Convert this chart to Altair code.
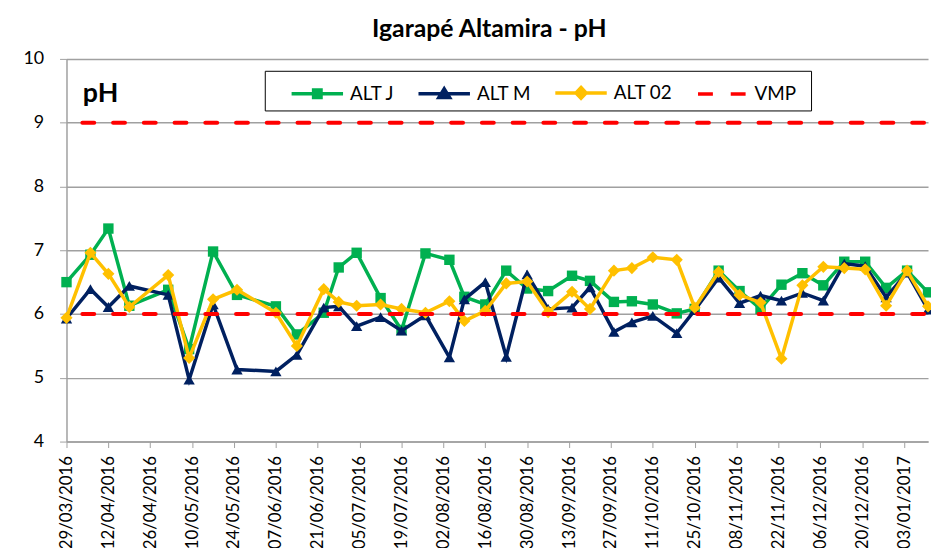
import altair as alt
import pandas as pd

# ---------------- data ----------------
dates = [
    "2016-03-29", "2016-04-06", "2016-04-12", "2016-04-19", "2016-05-02",
    "2016-05-09", "2016-05-17", "2016-05-25", "2016-06-07", "2016-06-14",
    "2016-06-23", "2016-06-28", "2016-07-04", "2016-07-12", "2016-07-19",
    "2016-07-27", "2016-08-04", "2016-08-09", "2016-08-16", "2016-08-23",
    "2016-08-30", "2016-09-06", "2016-09-14", "2016-09-20", "2016-09-28",
    "2016-10-04", "2016-10-11", "2016-10-19", "2016-10-25", "2016-11-02",
    "2016-11-09", "2016-11-16", "2016-11-23", "2016-11-30", "2016-12-07",
    "2016-12-14", "2016-12-21", "2016-12-28", "2017-01-04", "2017-01-11",
]
alt_j = [6.50, 6.93, 7.34, 6.13, 6.38, 5.45, 6.98, 6.30, 6.12, 5.68,
         6.02, 6.73, 6.96, 6.25, 5.75, 6.95, 6.85, 6.27, 6.15, 6.68,
         6.40, 6.36, 6.60, 6.52, 6.19, 6.20, 6.15, 6.01, 6.08, 6.68,
         6.36, 6.08, 6.46, 6.64, 6.45, 6.82, 6.82, 6.41, 6.68, 6.34]
alt_m = [5.93, 6.39, 6.11, 6.44, 6.30, 4.97, 6.15, 5.13, 5.10, 5.36,
         6.10, 6.12, 5.81, 5.95, 5.74, 5.98, 5.32, 6.23, 6.50, 5.33,
         6.62, 6.08, 6.10, 6.42, 5.72, 5.87, 5.97, 5.70, 6.06, 6.57,
         6.17, 6.29, 6.21, 6.33, 6.21, 6.79, 6.75, 6.26, 6.65, 6.07]
alt_02 = [5.94, 6.96, 6.63, 6.11, 6.61, 5.31, 6.23, 6.38, 6.02, 5.50,
          6.39, 6.19, 6.13, 6.15, 6.08, 6.02, 6.20, 5.89, 6.05, 6.48,
          6.51, 6.03, 6.35, 6.08, 6.68, 6.72, 6.89, 6.85, 6.10, 6.66,
          6.30, 6.18, 5.30, 6.45, 6.74, 6.72, 6.70, 6.13, 6.68, 6.12]
vmp_limits = [6.0, 9.0]
series_names = ["ALT J", "ALT M", "ALT 02", "VMP"]
tick_labels = [
    "29/03/2016", "12/04/2016", "26/04/2016", "10/05/2016", "24/05/2016",
    "07/06/2016", "21/06/2016", "05/07/2016", "19/07/2016", "02/08/2016",
    "16/08/2016", "30/08/2016", "13/09/2016", "27/09/2016", "11/10/2016",
    "25/10/2016", "08/11/2016", "22/11/2016", "06/12/2016", "20/12/2016",
    "03/01/2017",
]
y_ticks = [4, 5, 6, 7, 8, 9, 10]

# ---------------- styles ----------------
colors = ["#00B050", "#002060", "#FFC000", "#FF0000"]
marker_shapes = ["square", "triangle-up", "diamond"]
marker_sizes = [110, 130, 150]
legend_paths = [
    "M-1.73,0H1.73M-0.25,-0.25H0.25V0.25H-0.25Z",
    "M-1.73,0H1.73M0,-0.33L0.36,0.25H-0.36Z",
    "M-1.73,0H1.73M0,-0.36L0.34,0L0,0.36L-0.34,0Z",
    "M-1.6,0H-0.6M0.6,0H1.6",
]
GRAY = "#A0A0A0"
FONT = "Lato"


def to_ms(ts):
    return int(pd.Timestamp(ts).value // 10**6)


tick_ms = [to_ms(pd.to_datetime(t, format="%d/%m/%Y")) for t in tick_labels]
domain_ms = [to_ms(dates[0]), to_ms(dates[-1])]

rows = []
for name, vals in zip(series_names[:3], [alt_j, alt_m, alt_02]):
    for d, v in zip(dates, vals):
        rows.append({"date": d, "pH": v, "series": name})
df = pd.DataFrame(rows)
vmp_df = pd.DataFrame({"pH": vmp_limits})
legend_df = pd.DataFrame({"series": series_names,
                          "date": [None] * 4, "pH": [None] * 4})

x_axis = alt.Axis(
    title=None, values=tick_ms, format="%d/%m/%Y", labelAngle=270,
    labelFont=FONT, labelFontSize=17, labelColor="black", labelPadding=8,
    tickSize=6, tickColor=GRAY, domainColor=GRAY, domainWidth=1.5,
    grid=False, labelOverlap=False, labelFlush=False,
)
y_axis = alt.Axis(
    title="pH", values=y_ticks, format="d",
    labelFont=FONT, labelFontSize=18, labelColor="black", labelPadding=16,
    tickSize=7, tickColor=GRAY, domainColor=GRAY, domainWidth=1.5,
    grid=True, gridColor=GRAY, gridWidth=1.5,
    titleAngle=0, titleX=16, titleY=43, titleAlign="left",
    titleBaseline="alphabetic", titleFont=FONT, titleFontSize=27,
    titleFontWeight="bold", titleColor="black",
)
X = alt.X("date:T", scale=alt.Scale(type="utc", domain=domain_ms, nice=False),
          axis=x_axis)
Y = alt.Y("pH:Q", scale=alt.Scale(domain=[4, 10], nice=False, zero=False),
          axis=y_axis)

layers = []
for i, name in enumerate(series_names[:3]):
    layers.append(
        alt.Chart(df)
        .transform_filter(alt.datum.series == name)
        .mark_line(
            color=colors[i], strokeWidth=3.5,
            point=alt.OverlayMarkDef(shape=marker_shapes[i], filled=True,
                                     size=marker_sizes[i], color=colors[i],
                                     opacity=1),
        )
        .encode(x=X, y=Y)
    )

layers.append(
    alt.Chart(vmp_df)
    .mark_rule(color=colors[3], strokeWidth=4, strokeDash=[12, 19],
               strokeDashOffset=-4, strokeCap="round")
    .encode(y=Y)
)

leg = alt.Legend(
    title="\u00a0", titleOrient="right", titlePadding=10, titleFontSize=19,
    titleFont=FONT, titleColor="white",
    orient="none", legendX=200, legendY=12, direction="horizontal",
    columns=4, strokeColor="black", fillColor="white", padding=5,
    symbolSize=900, symbolStrokeWidth=3.5, symbolOpacity=1, symbolOffset=31,
    labelFont=FONT, labelFontSize=19, labelColor="black", labelOffset=16,
    columnPadding=2,
)
color_scale = alt.Scale(domain=series_names, range=colors)
shape_scale = alt.Scale(domain=series_names, range=legend_paths)
layers.append(
    alt.Chart(legend_df)
    .mark_point(filled=True, strokeWidth=3.5)
    .encode(
        x=X, y=Y,
        fill=alt.Fill("series:N", scale=color_scale, legend=leg),
        stroke=alt.Stroke("series:N", scale=color_scale, legend=leg),
        shape=alt.Shape("series:N", scale=shape_scale, legend=leg),
    )
)

chart = (
    alt.layer(*layers)
    .properties(
        width=869, height=386,
        title=alt.TitleParams(
            text="Igarapé Altamira - pH", font=FONT, fontSize=25,
            fontWeight="bold", color="black", anchor="middle", frame="group",
            dx=-8, dy=26, offset=14, baseline="alphabetic",
        ),
        autosize=alt.AutoSizeParams(type="none"),
        padding={"left": 59, "top": 49, "right": 3, "bottom": 105},
    )
    .configure(background="white")
    .configure_view(stroke=None)
)

chart.save("out.html", embed_options={"renderer": "svg", "actions": False})
